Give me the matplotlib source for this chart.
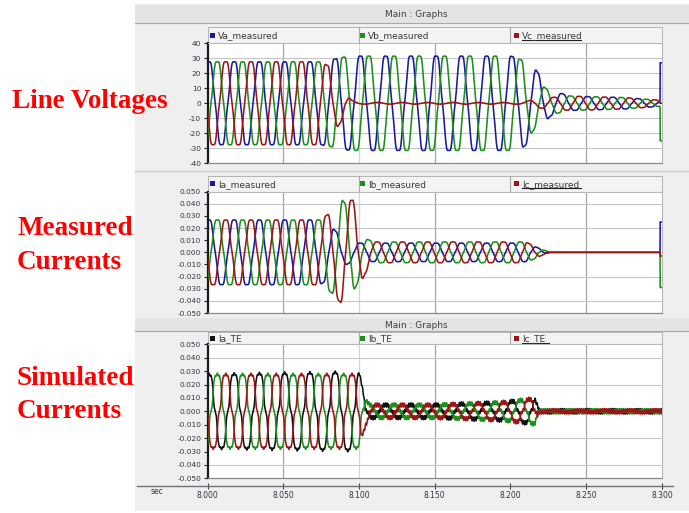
import matplotlib
matplotlib.use("Agg")
import matplotlib.pyplot as plt
from matplotlib.patches import Rectangle
import numpy as np

W, H = 689, 513

# time axis
x_ticks = [8.000, 8.050, 8.100, 8.150, 8.200, 8.250, 8.300]
x_labels = ["8.000", "8.050", "8.100", "8.150", "8.200", "8.250", "8.300"]
f_hz = 60.0
phase_deg = [-20, -140, 100]          # a, b, c phase angle

# line voltages
v_names = ["Va_measured", "Vb_measured", "Vc_measured"]
v_colors = ["#1a1a9c", "#1d8f1d", "#9c1616"]
v_key_t = [8.000, 8.075, 8.080, 8.088, 8.095, 8.100, 8.200, 8.208, 8.217, 8.226, 8.240, 8.275, 8.300]
va_amp = [29, 29, 30, 32, 33, 33, 33, 31, 23, 9, 5, 4, 2]
vb_amp = [29, 29, 30, 32, 33, 33, 33, 30, 16, 8, 5, 4, 2]
vc_amp = [29, 29, 26, 13, 2, 0.6, 0.6, 0.8, 3, 4, 5, 4, 2]
v_last = [27, -25, 0]
v_ticks = [40, 30, 20, 10, 0, -10, -20, -30, -40]

# measured currents
i_names = ["Ia_measured", "Ib_measured", "Ic_measured"]
i_colors = ["#1a1a9c", "#1d8f1d", "#9c1616"]
i_key_t = [8.000, 8.074, 8.082, 8.089, 8.096, 8.104, 8.110, 8.210, 8.220, 8.226, 8.300]
ia_amp = [0.028, 0.028, 0.022, 0.012, 0.008, 0.008, 0.008, 0.008, 0.003, 0.0, 0.0]
ib_amp = [0.028, 0.028, 0.035, 0.045, 0.035, 0.012, 0.009, 0.009, 0.003, 0.0, 0.0]
ic_amp = [0.028, 0.028, 0.035, 0.045, 0.045, 0.018, 0.009, 0.009, 0.003, 0.0, 0.0]
i_last = [0.025, -0.029, -0.003]

# simulated currents
s_names = ["Ia_TE", "Ib_TE", "Ic_TE"]
s_colors = ["#111111", "#1d8f1d", "#9c1616"]
s_key_t = [8.000, 8.100, 8.104, 8.107, 8.150, 8.195, 8.216, 8.219, 8.300]
sa_amp = [0.029, 0.031, 0.010, 0.005, 0.005, 0.007, 0.010, 0.0008, 0.0008]
sb_amp = [0.029, 0.029, 0.010, 0.005, 0.005, 0.007, 0.010, 0.0008, 0.0008]
sc_amp = [0.029, 0.029, 0.012, 0.005, 0.005, 0.007, 0.010, 0.0008, 0.0008]
s_ripple = [0.0006, 0.0006, 0.0015, 0.0015, 0.0015, 0.0015, 0.0015, 0.0013, 0.0013]

i_ticks = [0.05, 0.04, 0.03, 0.02, 0.01, 0.0, -0.01, -0.02, -0.03, -0.04, -0.05]


def wave(key_t, amp, ph, h5, h7, ripple=None, last=None):
    t = np.linspace(8.0, 8.3, 4001)
    th = 2 * np.pi * f_hz * (t - 8.0) + np.radians(ph)
    env = np.interp(t, key_t, amp)
    y = env * (np.cos(th) + h5 * np.cos(5 * th) + h7 * np.cos(7 * th))
    if ripple is not None:
        y = y + np.interp(t, key_t, ripple) * np.cos(13 * th)
    if last is not None:
        y[t >= 8.2988] = last
    return t, y


def fbox(x0, y0, x1, y1):
    return [x0 / W, 1 - y1 / H, (x1 - x0) / W, (y1 - y0) / H]


fig = plt.figure(figsize=(W / 100, H / 100), dpi=100)
fig.patch.set_facecolor("white")

bg = fig.add_axes([0, 0, 1, 1], zorder=0)
bg.set_xlim(0, W)
bg.set_ylim(H, 0)
bg.axis("off")

# window background and title bars
bg.add_patch(Rectangle((135, 4), 554, 507, fc="#efefef", ec="none"))
for ty0, ty1 in [(5, 23), (318, 331)]:
    bg.add_patch(Rectangle((135, ty0), 554, ty1 - ty0, fc="#e4e4e4", ec="none"))
    bg.plot([135, 689], [ty1, ty1], color="#a8a8a8", lw=0.8)
    bg.text(416, (ty0 + ty1) / 2 + 0.5, "Main : Graphs", fontsize=6.5, color="#404040",
            ha="center", va="center")
bg.plot([135, 689], [171, 171], color="#cfcfcf", lw=1.0)

PX0, PX1 = 207.5, 662
panels = [
    (43.3, 163.3, (27, 43.3), v_names, v_colors, v_key_t, [va_amp, vb_amp, vc_amp], v_last,
     (-40, 40), v_ticks, "%d", -0.05, 0.0, None),
    (191.7, 313, (176, 191.7), i_names, i_colors, i_key_t, [ia_amp, ib_amp, ic_amp], i_last,
     (-0.05, 0.05), i_ticks, "%.3f", -0.05, 0.0, None),
    (344.3, 478.3, (332, 344.3), s_names, s_colors, s_key_t, [sa_amp, sb_amp, sc_amp], None,
     (-0.05, 0.05), i_ticks, "%.3f", -0.09, 0.05, s_ripple),
]

dividers = [358.6, 510]
leg_x = [212, 362, 516]

for (y0, y1, (ly0, ly1), names, colors, key_t, amps, last, ylim, yticks, fmt,
     h5, h7, ripple) in panels:
    # legend bar
    bg.add_patch(Rectangle((PX0, ly0), PX1 - PX0, ly1 - ly0, fc="#f3f3f3", ec="#b4b4b4", lw=0.7))
    for d in dividers:
        bg.plot([d, d], [ly0, ly1], color="#a8a8a8", lw=0.8)
    ly = (ly0 + ly1) / 2
    for k in range(3):
        bg.add_patch(Rectangle((leg_x[k] - 2.5, ly - 2.5), 5, 5, fc=colors[k], ec="none"))
        lab = bg.text(leg_x[k] + 6, ly + 0.3, names[k], fontsize=6.5, color="#3a3a3a",
                      ha="left", va="center")
    txt_w = 5.4 * len(names[2])
    bg.plot([leg_x[2] + 6, leg_x[2] + 6 + txt_w], [ly + 4.5, ly + 4.5], color="#202020", lw=0.8)

    ax = fig.add_axes(fbox(PX0, y0, PX1, y1), zorder=2)
    ax.set_facecolor("white")
    ax.set_xlim(8.0, 8.3)
    ax.set_ylim(*ylim)
    for g in [8.05, 8.15, 8.25]:
        ax.axvline(g, color="#a4a4a4", lw=0.9, zorder=0)
    ax.axvline(8.10, color="#d6d6d6", lw=0.9, zorder=0)
    for yt in yticks[1:-1]:
        if fmt == "%d" or abs(round(yt / 0.02) * 0.02 - yt) < 1e-9:
            ax.axhline(yt, color="#c6c6c6", lw=0.8, zorder=0)
    for k in range(3):
        t, y = wave(key_t, amps[k], phase_deg[k], h5, h7,
                    ripple=ripple, last=None if last is None else last[k])
        ax.plot(t, y, color=colors[k], lw=1.15, zorder=2 + k)
    ax.set_xticks([])
    ax.set_yticks(yticks)
    ax.set_yticklabels([fmt % v for v in yticks], fontsize=5.3, color="#333344")
    ax.tick_params(axis="y", length=3, width=0.8, pad=1.5, color="#202020")
    for s in ["top", "right"]:
        ax.spines[s].set_color("#b8b8b8")
        ax.spines[s].set_linewidth(0.8)
    ax.spines["bottom"].set_color("#8a8a8a")
    ax.spines["bottom"].set_linewidth(0.9)
    ax.spines["left"].set_color("#1a1a1a")
    ax.spines["left"].set_linewidth(1.6)

# shared time axis at the bottom
ax_lo = 8.0 - (PX0 - 137) / 1515
ax_hi = 8.3 + (673 - PX1) / 1515
tax = fig.add_axes(fbox(137, 484.5, 673, 485.5), zorder=1)
tax.set_xlim(ax_lo, ax_hi)
tax.set_ylim(0, 1)
tax.patch.set_alpha(0)
for s in ["top", "left", "right"]:
    tax.spines[s].set_visible(False)
tax.spines["bottom"].set_color("#707070")
tax.spines["bottom"].set_linewidth(1.0)
tax.set_yticks([])
tax.set_xticks(x_ticks)
tax.set_xticklabels(x_labels, fontsize=5.5, color="#333344")
tax.tick_params(axis="x", direction="inout", length=4, width=0.8, pad=2, color="#404040")
bg.text(157, 491.5, "sec", fontsize=5.5, color="#333344", ha="center", va="center")

# red annotations
red_kw = dict(family=["Liberation Serif", "DejaVu Serif"], weight="bold", fontsize=19.5,
              color="#ff0000", ha="left", va="baseline")
bg.text(12, 108, "Line Voltages", **red_kw)
bg.text(17, 235, "Measured", **red_kw)
bg.text(17, 269, "Currents", **red_kw)
bg.text(17, 385, "Simulated", **red_kw)
bg.text(17, 418, "Currents", **red_kw)

fig.savefig("out.png", dpi=100, facecolor="white")
